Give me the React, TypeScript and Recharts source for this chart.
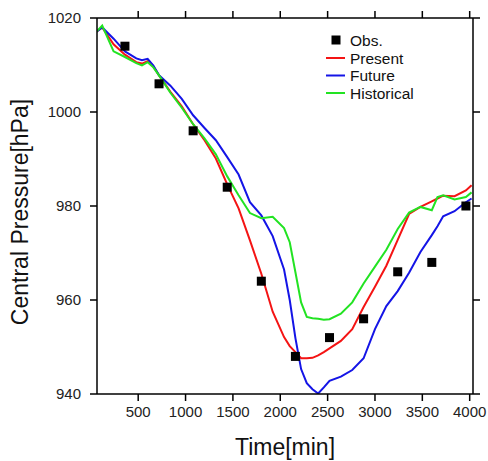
import React from 'react';
import {
  ComposedChart,
  Line,
  Scatter,
  XAxis,
  YAxis,
  Label,
} from 'recharts';

// time steps in minutes
const times = [
  60, 120, 240, 360, 480, 540, 600, 660, 720, 840, 960, 1080, 1200, 1320, 1440, 1560,
  1680, 1800, 1920, 2040, 2100, 2160, 2220, 2280, 2340, 2400, 2460, 2520,
  2640, 2760, 2880, 3000, 3120, 3240, 3360, 3480, 3600, 3660, 3720, 3840,
  3960, 4020,
];

const present = [
  1017.1, 1018.0, 1014.4, 1012.2, 1010.6, 1010.3, 1010.8, 1009.7, 1007.8, 1004.3, 1001.2, 997.4,
  994.0, 990.1, 984.6, 979.5, 972.7, 965.6, 957.5, 952.1, 950.2, 948.9,
  947.6, 947.6, 947.7, 948.2, 948.9, 949.7, 951.3, 953.8, 958.5, 962.8,
  967.3, 972.8, 978.3, 979.8, 981.0, 981.6, 982.2, 982.1, 983.3, 984.4,
];

const future = [
  1017.1, 1018.0, 1015.6, 1012.9, 1011.4, 1011.0, 1011.3, 1009.9, 1007.8, 1005.6, 1002.8, 999.3,
  996.6, 994.0, 990.4, 986.7, 980.8, 978.0, 973.6, 966.5, 960.0, 951.9,
  945.3, 942.3, 941.0, 940.1, 941.4, 942.8, 943.7, 945.1, 947.6, 953.8,
  958.7, 961.9, 965.8, 970.2, 973.8, 975.7, 977.8, 978.9, 980.8, 981.6,
];

const historical = [
  1017.1, 1018.4, 1012.9, 1011.7, 1010.4, 1009.9, 1010.6, 1009.5, 1007.8, 1004.1, 1000.9, 997.4,
  994.4, 991.0, 986.3, 982.3, 978.5, 977.4, 977.7, 975.3, 972.3, 965.9,
  959.5, 956.4, 956.1, 956.0, 955.8, 955.9, 957.1, 959.5, 963.5, 967.1,
  970.7, 975.1, 978.6, 979.8, 979.1, 981.9, 982.3, 981.4, 981.9, 982.9,
];

const obsTimes = [360, 720, 1080, 1440, 1800, 2160, 2520, 2880, 3240, 3600, 3960];
const obsValues = [1014, 1006, 996, 984, 964, 948, 952, 956, 966, 968, 980];

const xTicks = [500, 1000, 1500, 2000, 2500, 3000, 3500, 4000];
const yTicks = [940, 960, 980, 1000, 1020];

const series = [
  { key: 'present', name: 'Present', color: '#f41414' },
  { key: 'future', name: 'Future', color: '#1414e6' },
  { key: 'historical', name: 'Historical', color: '#22e322' },
];

const rows = times.map((t, i) => ({
  t,
  present: present[i],
  future: future[i],
  historical: historical[i],
}));

const obs = obsTimes.map((t, i) => ({ t, p: obsValues[i] }));

const FONT = '"Liberation Sans", Arial, Helvetica, sans-serif';
const axisStroke = { stroke: '#000', strokeWidth: 1.5 };

const ObsMarker = (props: any) => (
  <rect x={props.cx - 4.5} y={props.cy - 4.5} width={9} height={9} fill="#000" />
);

export default function App() {
  return (
    <div style={{ position: 'absolute', left: 0, top: 0, width: 488, height: 461, background: '#fff', fontFamily: FONT }}>
      <ComposedChart
        width={488}
        height={461}
        data={rows}
        margin={{ top: 8, right: 0, left: 0, bottom: 0 }}
      >
        <XAxis
          xAxisId="bottom"
          type="number"
          dataKey="t"
          domain={[65, 4035]}
          ticks={xTicks}
          height={67}
          axisLine={axisStroke}
          tickLine={axisStroke}
          tickSize={7}
          tickMargin={5}
          tick={{ fill: '#222', fontSize: 15, fontFamily: FONT }}
          allowDataOverflow
        >
          <Label
            content={() => (
              <text x={285} y={455} textAnchor="middle" fontSize={23} fontFamily={FONT} fill="#111">
                Time[min]
              </text>
            )}
          />
        </XAxis>
        <XAxis
          xAxisId="top"
          orientation="top"
          type="number"
          dataKey="t"
          domain={[65, 4035]}
          ticks={xTicks}
          height={10}
          axisLine={axisStroke}
          tickLine={axisStroke}
          tickSize={7}
          tickFormatter={() => ''}
          allowDataOverflow
        />
        <YAxis
          yAxisId="left"
          domain={[940, 1020]}
          ticks={yTicks}
          width={97}
          axisLine={axisStroke}
          tickLine={axisStroke}
          tickSize={7}
          tickMargin={9}
          tick={{ fill: '#222', fontSize: 15, fontFamily: FONT }}
          allowDataOverflow
        >
          <Label
            content={() => (
              <text
                x={28}
                y={212}
                textAnchor="middle"
                fontSize={23}
                fontFamily={FONT}
                fill="#111"
                transform="rotate(-90 28 212)"
              >
                Central Pressure[hPa]
              </text>
            )}
          />
        </YAxis>
        <YAxis
          yAxisId="right"
          orientation="right"
          domain={[940, 1020]}
          ticks={yTicks}
          width={15}
          axisLine={axisStroke}
          tickLine={axisStroke}
          tickSize={7}
          tickFormatter={() => ''}
          allowDataOverflow
        />
        {series.map((s) => (
          <Line
            key={s.key}
            xAxisId="bottom"
            yAxisId="left"
            type="linear"
            dataKey={s.key}
            stroke={s.color}
            strokeWidth={2}
            dot={false}
            isAnimationActive={false}
          />
        ))}
        <Scatter
          xAxisId="bottom"
          yAxisId="left"
          data={obs}
          dataKey="p"
          shape={<ObsMarker />}
          isAnimationActive={false}
        />
      </ComposedChart>
      {/* legend, top right inside the plot */}
      <svg width={488} height={461} style={{ position: 'absolute', left: 0, top: 0, pointerEvents: 'none' }}>
        <rect x={331.5} y={35.5} width={9} height={9} fill="#000" />
        <text x={350} y={45.5} fontSize={15.5} fontFamily={FONT} fill="#111">Obs.</text>
        {series.map((s, i) => (
          <g key={s.key}>
            <line x1={326} x2={345} y1={58 + i * 17.5} y2={58 + i * 17.5} stroke={s.color} strokeWidth={2} />
            <text x={350} y={63.5 + i * 17.5} fontSize={15.5} fontFamily={FONT} fill="#111">{s.name}</text>
          </g>
        ))}
      </svg>
    </div>
  );
}
